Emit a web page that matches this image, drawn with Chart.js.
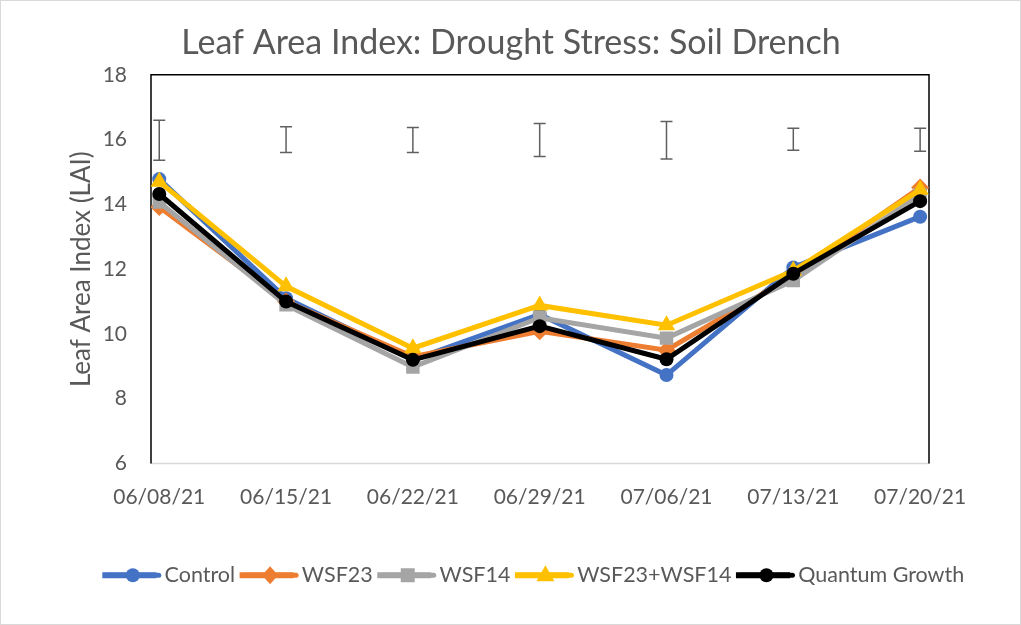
<!DOCTYPE html>
<html>
<head>
<meta charset="utf-8">
<script src="https://cdn.jsdelivr.net/npm/chart.js@4.4.0/dist/chart.umd.min.js"></script>
<style>
  html, body { margin: 0; padding: 0; background: #fff; }
  #wrap { width: 1021px; height: 625px; position: relative; }
</style>
</head>
<body>
<div id="wrap"><canvas id="c" width="1021" height="625"></canvas></div>
<script>
const dates = ["06/08/21", "06/15/21", "06/22/21", "06/29/21", "07/06/21", "07/13/21", "07/20/21"];
const control = [14.78, 11.1, 9.2, 10.6, 8.73, 12.05, 13.62];
const wsf23 = [13.92, 11.0, 9.3, 10.08, 9.5, 11.8, 14.52];
const wsf14 = [14.07, 10.9, 8.98, 10.5, 9.87, 11.65, 14.3];
const wsf23wsf14 = [14.7, 11.47, 9.56, 10.88, 10.27, 11.95, 14.45];
const quantum = [14.32, 11.0, 9.2, 10.24, 9.22, 11.86, 14.1];
const errHigh = [16.6, 16.4, 16.37, 16.5, 16.56, 16.35, 16.35];
const errLow = [15.36, 15.6, 15.6, 15.48, 15.4, 15.67, 15.64];
const yTicks = [6, 8, 10, 12, 14, 16, 18];

const FONT = "Lato";
const TXT = "#595959";
const LEGEND_SHIFT = 70;
const TITLE_SHIFT = 46.5;

function pts(arr) { return arr.map((v, i) => ({ x: i, y: v })); }

function drawMarker(ctx, style, x, y, color) {
  ctx.save();
  ctx.fillStyle = color;
  ctx.beginPath();
  if (style === 'circle') {
    ctx.arc(x, y, 7, 0, Math.PI * 2);
  } else if (style === 'rect') {
    ctx.rect(x - 7, y - 7, 14, 14);
  } else if (style === 'rectRot') {
    ctx.moveTo(x, y - 9); ctx.lineTo(x + 8, y); ctx.lineTo(x, y + 9); ctx.lineTo(x - 8, y); ctx.closePath();
  } else if (style === 'triangle') {
    ctx.moveTo(x, y - 10); ctx.lineTo(x + 9, y + 6); ctx.lineTo(x - 9, y + 6); ctx.closePath();
  }
  ctx.fill();
  ctx.restore();
}

const series = [
  { label: "Control", data: control, color: "#4472C4", style: "circle", r: 7, order: 5 },
  { label: "WSF23", data: wsf23, color: "#ED7D31", style: "rectRot", r: 9, order: 4 },
  { label: "WSF14", data: wsf14, color: "#A5A5A5", style: "rect", r: 9.5, order: 3 },
  { label: "WSF23+WSF14", data: wsf23wsf14, color: "#FFC000", style: "triangle", r: 10, order: 2 },
  { label: "Quantum Growth", data: quantum, color: "#000000", style: "circle", r: 7, order: 1 }
];

const LEG_LINE = 56;

const frame = {
  id: 'frame',
  afterLayout(chart) {
    const lg = chart.legend;
    if (lg) {
      lg.left += LEGEND_SHIFT; lg.right += LEGEND_SHIFT;
      if (lg.legendHitBoxes) lg.legendHitBoxes.forEach(h => { h.left += LEGEND_SHIFT; });
    }
    const tb = chart.titleBlock;
    if (tb) { tb.left += TITLE_SHIFT; tb.right += TITLE_SHIFT; }
  },
  beforeDraw(chart) {
    const ctx = chart.ctx;
    ctx.save();
    ctx.fillStyle = '#fff';
    ctx.fillRect(0, 0, chart.width, chart.height);
    ctx.strokeStyle = '#d9d9d9';
    ctx.lineWidth = 1;
    ctx.strokeRect(0.5, 0.5, chart.width - 1, chart.height - 1);
    ctx.restore();
  },
  beforeDatasetsDraw(chart) {
    const a = chart.chartArea, ctx = chart.ctx;
    ctx.save();
    ctx.strokeStyle = '#d9d9d9';
    ctx.lineWidth = 1.5;
    ctx.beginPath();
    ctx.moveTo(a.left, a.bottom); ctx.lineTo(a.right, a.bottom);
    ctx.stroke();
    ctx.strokeStyle = '#000';
    ctx.lineWidth = 1.5;
    ctx.beginPath();
    ctx.moveTo(a.left, a.bottom); ctx.lineTo(a.left, a.top); ctx.lineTo(a.right, a.top); ctx.lineTo(a.right, a.bottom);
    ctx.stroke();
    const xs = chart.scales.x, ys = chart.scales.y;
    ctx.strokeStyle = '#606060';
    ctx.lineWidth = 1.5;
    for (let i = 0; i < dates.length; i++) {
      const x = xs.getPixelForValue(i);
      const y1 = ys.getPixelForValue(errHigh[i]);
      const y2 = ys.getPixelForValue(errLow[i]);
      ctx.beginPath();
      ctx.moveTo(x, y1); ctx.lineTo(x, y2);
      ctx.moveTo(x - 6, y1); ctx.lineTo(x + 6, y1);
      ctx.moveTo(x - 6, y2); ctx.lineTo(x + 6, y2);
      ctx.stroke();
    }
    ctx.restore();
  },
  afterDraw(chart) {
    const lg = chart.legend;
    if (!lg || !lg.legendHitBoxes) return;
    const fs = lg.options.labels.font.size;
    const ctx = chart.ctx;
    lg.legendHitBoxes.forEach((hb, i) => {
      const s = series[i];
      const cy = hb.top + fs / 2;
      ctx.save();
      ctx.strokeStyle = s.color;
      ctx.lineWidth = 5;
      ctx.lineCap = 'round';
      ctx.beginPath();
      ctx.moveTo(hb.left + 2, cy); ctx.lineTo(hb.left + LEG_LINE - 2, cy);
      ctx.stroke();
      ctx.restore();
      drawMarker(ctx, s.style, hb.left + LEG_LINE / 2, cy, s.color);
    });
  }
};

new Chart(document.getElementById('c'), {
  type: 'line',
  data: {
    datasets: series.map(s => ({
      label: s.label,
      data: pts(s.data),
      borderColor: s.color,
      backgroundColor: s.color,
      borderWidth: 5,
      pointStyle: s.style,
      pointRadius: s.r,
      pointHoverRadius: s.r,
      pointBackgroundColor: s.color,
      pointBorderColor: s.color,
      pointBorderWidth: 0,
      tension: 0,
      order: s.order
    }))
  },
  options: {
    responsive: false,
    animation: false,
    events: [],
    layout: { padding: { left: 0, right: 92, top: 0, bottom: 29 } },
    plugins: {
      tooltip: { enabled: false },
      title: {
        display: true,
        text: "Leaf Area Index: Drought Stress: Soil Drench",
        color: TXT,
        font: { family: FONT, size: 34, weight: 'normal' },
        padding: { top: 23, bottom: 11 }
      },
      legend: {
        position: 'bottom',
        labels: {
          color: TXT,
          font: { family: FONT, size: 21.5 },
          boxWidth: 49,
          boxHeight: 1,
          padding: 7,
          sort: (a, b) => a.datasetIndex - b.datasetIndex
        }
      }
    },
    scales: {
      x: {
        type: 'linear',
        min: -0.065,
        max: 6.07,
        afterBuildTicks: (scale) => { scale.ticks = dates.map((d, i) => ({ value: i })); },
        ticks: {
          color: TXT,
          font: { family: FONT, size: 21 },
          padding: 13,
          maxRotation: 0,
          autoSkip: false,
          callback: (v) => dates[v]
        },
        grid: { display: false },
        border: { display: false },
        afterFit: (scale) => { scale.height = 94; }
      },
      y: {
        min: 6,
        max: 18,
        afterBuildTicks: (scale) => { scale.ticks = yTicks.map(v => ({ value: v })); },
        ticks: {
          color: TXT,
          font: { family: FONT, size: 21 },
          padding: 16
        },
        grid: { display: false },
        border: { display: false },
        title: {
          display: true,
          text: "Leaf Area Index (LAI)",
          color: TXT,
          font: { family: FONT, size: 26 },
          padding: { top: 66, bottom: 0 }
        },
        afterFit: (scale) => { scale.width = 151; }
      }
    }
  },
  plugins: [frame]
});
</script>
</body>
</html>
